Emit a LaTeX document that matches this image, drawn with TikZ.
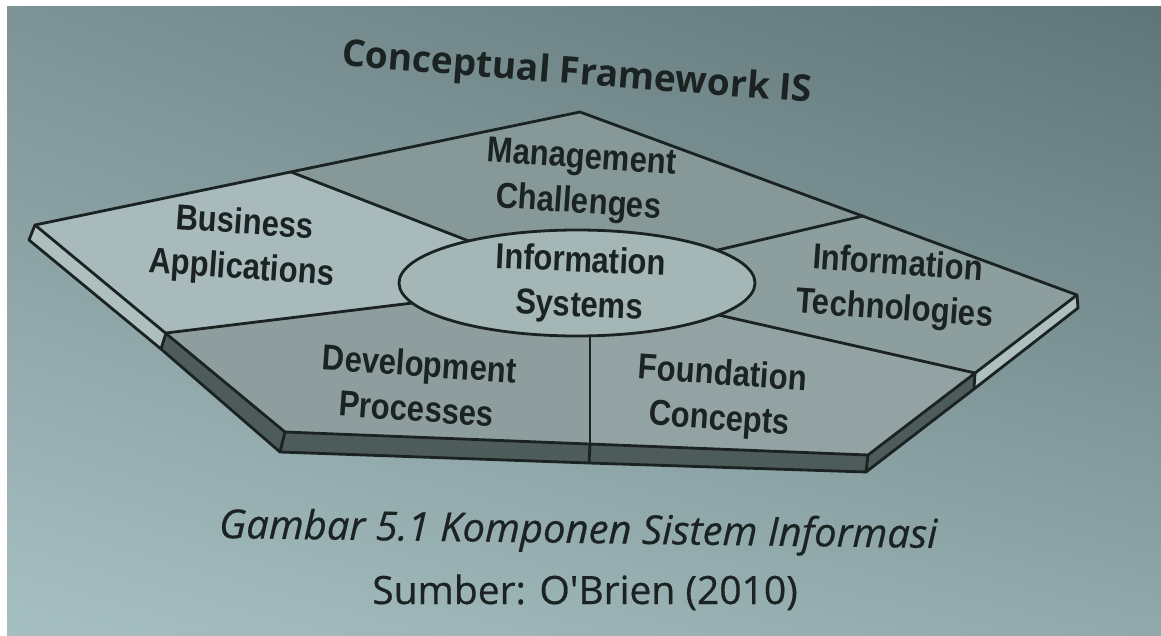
\documentclass[tikz,border=0pt]{standalone}
\usepackage{fontspec}
\setmainfont{Liberation Sans}
\newfontfamily\labelfont[FakeStretch=0.86]{Liberation Sans}
\newfontfamily\headfont{Open Sans}
\newfontfamily\capfont[FakeBold=0.5]{Open Sans}
\usetikzlibrary{shapes.geometric,shadings}

% paper and print colours
\definecolor{bgUL}{HTML}{7D9396}
\definecolor{bgUR}{HTML}{607577}
\definecolor{bgLL}{HTML}{A6BFC1}
\definecolor{bgLR}{HTML}{91A9AB}
\definecolor{ink}{HTML}{1A2222}
\definecolor{faceLight}{HTML}{A8BABB}
\definecolor{faceMgmt}{HTML}{879898}
\definecolor{faceTech}{HTML}{8D9E9F}
\definecolor{faceDev}{HTML}{8E9E9E}
\definecolor{faceFound}{HTML}{93A3A3}
\definecolor{ovalFill}{HTML}{A4B6B6}
\definecolor{sideLight}{HTML}{AFBFBF}
\definecolor{sideDark}{HTML}{4E5B5B}

\begin{document}
\begin{tikzpicture}[x=0.5pt,y=-0.5pt,
  outline/.style={draw=ink,line width=1.4pt,line join=round,line cap=round},
  lbl/.style={font=\labelfont\bfseries\fontsize{18}{22.5}\selectfont,
              text=ink,align=center,rotate=-4,inner sep=0pt},
]
\useasboundingbox (0,0) rectangle (1161,636);
\fill[white] (0,0) rectangle (1161,636);
\shade[upper left=bgUL,upper right=bgUR,lower left=bgLL,lower right=bgLR]
  (7,7) rectangle (1161,636);

% corners of the slab's top face
\coordinate (L)  at (35,225);
\coordinate (T)  at (580,112);
\coordinate (R)  at (1077,295);
\coordinate (BR) at (868,455);
\coordinate (BL) at (285,432);
% lower edge of the slab
\coordinate (Ls)  at (29,240);
\coordinate (BLs) at (280,452);
\coordinate (BRs) at (866,472);
\coordinate (Rs)  at (1078,308);
% where the section borders meet the rim
\coordinate (pBM) at (291,172);
\coordinate (pMT) at (863,216);
\coordinate (pBD) at (166,333);
\coordinate (pBDs) at (161,349);
\coordinate (pDF) at (590,444);
\coordinate (pDFs) at (589,463);
\coordinate (pTF) at (975,373);
\coordinate (pTFs) at (974,389);
% points inside the central oval
\coordinate (C)  at (577,283);
\coordinate (Cd) at (590,300);

% side faces
\fill[sideLight] (L) -- (pBD) -- (pBDs) -- (Ls) -- cycle;
\fill[sideDark]  (pBD) -- (BL) -- (BLs) -- (pBDs) -- cycle;
\fill[sideDark]  (BL) -- (BR) -- (BRs) -- (BLs) -- cycle;
\fill[sideDark]  (BR) -- (pTF) -- (pTFs) -- (BRs) -- cycle;
\fill[sideLight] (pTF) -- (R) -- (Rs) -- (pTFs) -- cycle;

% sections of the top face
\fill[faceLight] (L) -- (pBM) -- (C) -- (pBD) -- cycle;
\fill[faceMgmt]  (pBM) -- (T) -- (pMT) -- (C) -- cycle;
\fill[faceTech]  (pMT) -- (R) -- (pTF) -- (C) -- cycle;
\fill[faceFound] (pTF) -- (BR) -- (pDF) -- (Cd) -- (C) -- cycle;
\fill[faceDev]   (pBD) -- (C) -- (Cd) -- (pDF) -- (BL) -- cycle;

% section borders
\draw[outline] (pBM) -- (C);
\draw[outline] (pMT) -- (C);
\draw[outline] (pBD) -- (C);
\draw[outline] (pTF) -- (C);
\draw[outline] (pDF) -- (Cd);

% central oval
\node[ellipse,outline,fill=ovalFill,minimum width=178pt,minimum height=53pt,
      inner sep=0pt] (E) at (C) {};

% slab outline
\draw[outline] (L) -- (T) -- (R) -- (BR) -- (BL) -- cycle;
\draw[outline] (L) -- (Ls) -- (pBDs) -- (BLs) -- (pDFs) -- (BRs) -- (pTFs) -- (Rs) -- (R);
\draw[outline] (pBD) -- (pBDs);
\draw[outline] (BL) -- (BLs);
\draw[outline] (pDF) -- (pDFs);
\draw[outline] (BR) -- (BRs);
\draw[outline] (pTF) -- (pTFs);

% section labels
\node[lbl] (mc) at (580,182) {Management\\Challenges};
\node[lbl] (ba) at (243,247) {Business\\Applications};
\node[lbl,rotate=1.5] (is) at (580,285) {Information\\Systems};
\node[lbl] (it) at (896,288) {Information\\Technologies};
\node[lbl] (dp) at (418,386) {Development\\Processes};
\node[lbl] (fc) at (721,398) {Foundation\\Concepts};

% heading and caption
\node[font=\headfont\bfseries\fontsize{18.5}{22}\selectfont,text=ink,anchor=base,
      rotate=-4.5,inner sep=0pt] (title) at (576,84) {Conceptual Framework IS};
\node[font=\capfont\itshape\fontsize{20}{24}\selectfont,text=ink,anchor=base,
      rotate=-0.8,inner sep=0pt] (cap) at (578,543) {Gambar 5.1 Komponen Sistem Informasi};
\node[font=\capfont\fontsize{19.5}{24}\selectfont,text=ink,anchor=base,
      inner sep=0pt] (src) at (585,604) {Sumber: O'Brien (2010)};
\end{tikzpicture}
\end{document}
